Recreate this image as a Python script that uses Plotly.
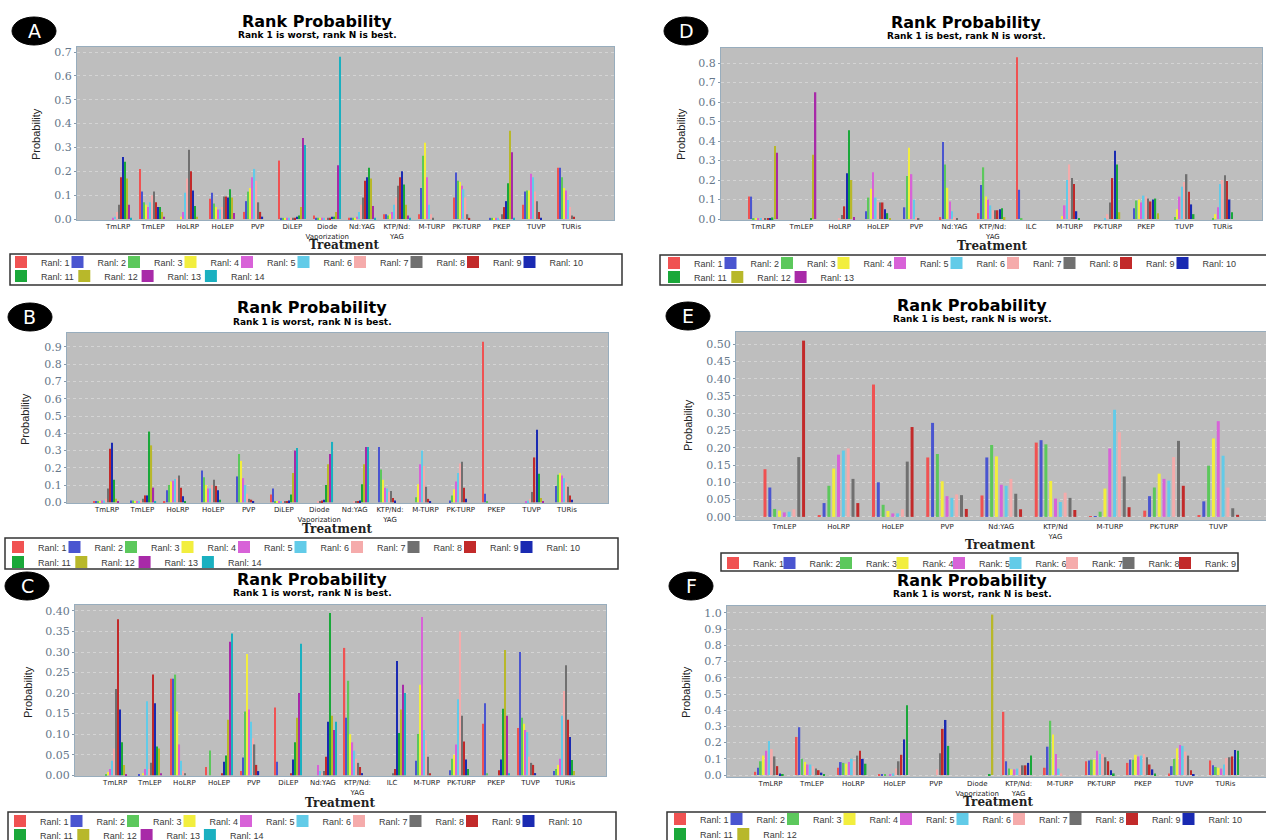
import plotly.graph_objects as go

W, H = 1266, 840

# ---------------- data ----------------
rank_colors = ["#f05252", "#4a55d0", "#5cc85c", "#f2ee3e", "#d862d8", "#62cbe8", "#f5abab",
               "#707070", "#c22a2a", "#1a2ab2", "#1aa83a", "#b8b82a", "#a82aa8", "#1ab0c0"]

title_text = "Rank Probability"
sub_worst = "Rank 1 is worst, rank N is best."
sub_best = "Rank 1 is best, rank N is worst."

treat_A = ["TmLRP", "TmLEP", "HoLRP", "HoLEP", "PVP", "DiLEP", "Diode<br>Vaporization", "Nd:YAG",
           "KTP/Nd:<br>YAG", "M-TURP", "PK-TURP", "PKEP", "TUVP", "TURis"]
prob_A = [
    [0, 0, 0, 0, 0.005, 0.01, 0.03, 0.06, 0.175, 0.26, 0.24, 0.17, 0.06, 0.005],
    [0.21, 0.115, 0.07, 0.06, 0.05, 0.07, 0.1, 0.115, 0.07, 0.05, 0.05, 0.03, 0.01, 0],
    [0, 0, 0, 0.01, 0.03, 0.11, 0.17, 0.29, 0.2, 0.12, 0.055, 0.01, 0, 0],
    [0.085, 0.11, 0.065, 0.05, 0.04, 0.04, 0.05, 0.095, 0.095, 0.09, 0.125, 0.09, 0.025, 0],
    [0.03, 0.075, 0.115, 0.13, 0.175, 0.21, 0.16, 0.07, 0.03, 0.01, 0, 0, 0, 0],
    [0.245, 0.005, 0.005, 0.005, 0.005, 0.005, 0.005, 0.005, 0.005, 0.01, 0.015, 0.05, 0.34, 0.31],
    [0.015, 0.005, 0.005, 0.005, 0.005, 0.005, 0.005, 0.005, 0.005, 0.01, 0.01, 0.03, 0.225, 0.68],
    [0.005, 0.005, 0.005, 0.005, 0.01, 0.03, 0.06, 0.09, 0.16, 0.175, 0.215, 0.17, 0.055, 0.005],
    [0.02, 0.02, 0.015, 0.02, 0.03, 0.06, 0.09, 0.14, 0.175, 0.2, 0.145, 0.06, 0.015, 0.005],
    [0.02, 0.13, 0.265, 0.32, 0.175, 0.06, 0.02, 0.005, 0, 0, 0, 0, 0, 0],
    [0.09, 0.195, 0.16, 0.155, 0.14, 0.125, 0.09, 0.02, 0.005, 0, 0, 0, 0, 0],
    [0, 0.005, 0.005, 0.005, 0.005, 0.005, 0.01, 0.02, 0.05, 0.075, 0.15, 0.37, 0.28, 0.005],
    [0.06, 0.115, 0.12, 0.12, 0.19, 0.175, 0.115, 0.075, 0.03, 0.005, 0, 0, 0, 0],
    [0.215, 0.215, 0.175, 0.13, 0.12, 0.08, 0.05, 0.015, 0.01, 0, 0, 0, 0, 0],
]

treat_B = treat_A
prob_B = [
    [0.005, 0.005, 0.005, 0.005, 0.01, 0.01, 0.02, 0.08, 0.31, 0.345, 0.13, 0.02, 0.005, 0],
    [0, 0.01, 0.01, 0.005, 0.005, 0.005, 0.01, 0.02, 0.04, 0.04, 0.41, 0.33, 0.085, 0.005],
    [0.005, 0.07, 0.1, 0.12, 0.125, 0.135, 0.14, 0.155, 0.085, 0.035, 0.005, 0, 0, 0],
    [0, 0.185, 0.145, 0.1, 0.08, 0.08, 0.1, 0.13, 0.095, 0.07, 0.015, 0, 0, 0],
    [0, 0.15, 0.28, 0.24, 0.14, 0.1, 0.05, 0.02, 0.015, 0.005, 0, 0, 0, 0],
    [0.045, 0.08, 0.005, 0.005, 0.005, 0.005, 0.005, 0.005, 0.005, 0.01, 0.045, 0.17, 0.3, 0.315],
    [0, 0, 0, 0, 0, 0, 0.005, 0.005, 0.01, 0.015, 0.1, 0.22, 0.28, 0.35],
    [0, 0, 0, 0, 0, 0, 0.005, 0.005, 0.005, 0.01, 0.105, 0.22, 0.32, 0.32],
    [0, 0.32, 0.19, 0.13, 0.085, 0.08, 0.06, 0.065, 0.025, 0.01, 0, 0, 0, 0],
    [0, 0, 0.03, 0.105, 0.22, 0.3, 0.21, 0.09, 0.02, 0.005, 0, 0, 0, 0],
    [0, 0.01, 0.04, 0.075, 0.12, 0.17, 0.225, 0.235, 0.085, 0.02, 0, 0, 0, 0],
    [0.93, 0.05, 0.005, 0, 0, 0, 0, 0, 0, 0, 0, 0, 0, 0],
    [0, 0, 0, 0, 0.005, 0.01, 0.02, 0.06, 0.26, 0.42, 0.165, 0.025, 0.005, 0],
    [0, 0.095, 0.16, 0.17, 0.155, 0.14, 0.115, 0.09, 0.04, 0.015, 0, 0, 0, 0],
]

treat_C = ["TmLRP", "TmLEP", "HoLRP", "HoLEP", "PVP", "DiLEP", "Nd:YAG", "KTP/Nd:<br>YAG", "ILC",
           "M-TURP", "PK-TURP", "PKEP", "TUVP", "TURis"]
prob_C = [
    [0, 0, 0.003, 0.008, 0.015, 0.035, 0.065, 0.21, 0.38, 0.16, 0.08, 0.025, 0.002, 0],
    [0, 0.003, 0, 0.005, 0.015, 0.18, 0.015, 0.03, 0.245, 0.175, 0.07, 0.065, 0.005, 0],
    [0.235, 0.235, 0.245, 0.155, 0.075, 0.035, 0.01, 0.005, 0, 0, 0, 0, 0, 0],
    [0.02, 0, 0.06, 0, 0, 0, 0, 0, 0.005, 0.033, 0.048, 0.135, 0.325, 0.345],
    [0.01, 0.043, 0.155, 0.295, 0.16, 0.13, 0.09, 0.075, 0.025, 0.01, 0, 0, 0, 0],
    [0.165, 0.033, 0, 0, 0, 0, 0, 0, 0.005, 0.038, 0.08, 0.14, 0.2, 0.32],
    [0, 0, 0, 0, 0.025, 0.01, 0.005, 0.01, 0.045, 0.13, 0.395, 0.145, 0.11, 0.13],
    [0.31, 0.14, 0.23, 0.1, 0.08, 0.06, 0.04, 0.03, 0.02, 0.005, 0, 0, 0, 0],
    [0, 0, 0, 0, 0, 0, 0, 0.005, 0.015, 0.278, 0.103, 0.16, 0.22, 0.2],
    [0, 0.035, 0.1, 0.22, 0.385, 0.11, 0.085, 0.045, 0.005, 0, 0, 0, 0, 0],
    [0, 0.012, 0.04, 0.05, 0.075, 0.185, 0.35, 0.145, 0.082, 0.038, 0.015, 0, 0, 0],
    [0.125, 0.175, 0.005, 0, 0, 0, 0, 0, 0.012, 0.038, 0.162, 0.305, 0.145, 0.005],
    [0.115, 0.3, 0.14, 0.125, 0.11, 0.105, 0.045, 0.03, 0.025, 0.005, 0, 0, 0, 0],
    [0, 0.01, 0.015, 0.025, 0.04, 0.145, 0.205, 0.268, 0.135, 0.093, 0.037, 0.01, 0, 0],
]

treat_D = ["TmLRP", "TmLEP", "HoLRP", "HoLEP", "PVP", "Nd:YAG", "KTP/Nd:<br>YAG", "ILC",
           "M-TURP", "PK-TURP", "PKEP", "TUVP", "TURis"]
prob_D = [
    [0.115, 0.115, 0.005, 0.002, 0.002, 0.002, 0.002, 0.002, 0.002, 0.005, 0.008, 0.375, 0.34],
    [0, 0, 0, 0, 0, 0, 0, 0, 0, 0, 0.005, 0.33, 0.65],
    [0, 0, 0, 0, 0, 0, 0.005, 0.02, 0.065, 0.235, 0.455, 0.2, 0.01],
    [0, 0.04, 0.11, 0.155, 0.24, 0.11, 0.09, 0.085, 0.085, 0.05, 0.03, 0.005, 0],
    [0, 0.06, 0.22, 0.365, 0.23, 0.1, 0.01, 0.005, 0, 0, 0, 0, 0],
    [0.01, 0.395, 0.28, 0.16, 0.09, 0.04, 0.01, 0.005, 0, 0, 0, 0, 0],
    [0.03, 0.175, 0.265, 0.115, 0.1, 0.07, 0.045, 0.045, 0.045, 0.05, 0.055, 0.01, 0],
    [0.83, 0.15, 0.005, 0, 0, 0, 0, 0, 0, 0, 0, 0, 0],
    [0, 0, 0, 0.015, 0.07, 0.2, 0.28, 0.21, 0.18, 0.04, 0.005, 0, 0],
    [0, 0, 0, 0, 0, 0.005, 0.025, 0.085, 0.21, 0.35, 0.28, 0.035, 0],
    [0, 0.055, 0.095, 0.1, 0.085, 0.12, 0.115, 0.105, 0.09, 0.1, 0.105, 0.03, 0],
    [0, 0, 0.01, 0.05, 0.115, 0.165, 0.19, 0.23, 0.14, 0.075, 0.025, 0, 0],
    [0, 0, 0.005, 0.025, 0.06, 0.18, 0.2, 0.225, 0.195, 0.1, 0.035, 0, 0],
]

treat_E = ["TmLEP", "HoLRP", "HoLEP", "PVP", "Nd:YAG", "KTP/Nd<br>YAG", "M-TURP", "PK-TURP", "TUVP"]
prob_E = [
    [0.138, 0.085, 0.023, 0.018, 0.013, 0.015, 0.022, 0.173, 0.51],
    [0.005, 0.04, 0.09, 0.14, 0.18, 0.192, 0.198, 0.11, 0.04],
    [0.383, 0.1, 0.035, 0.017, 0.01, 0.01, 0.022, 0.16, 0.26],
    [0.172, 0.272, 0.182, 0.103, 0.06, 0.055, 0.065, 0.063, 0.023],
    [0.062, 0.172, 0.208, 0.175, 0.093, 0.09, 0.11, 0.067, 0.022],
    [0.215, 0.222, 0.21, 0.104, 0.053, 0.043, 0.07, 0.055, 0.02],
    [0.002, 0.002, 0.015, 0.082, 0.198, 0.31, 0.245, 0.117, 0.028],
    [0.018, 0.06, 0.085, 0.125, 0.11, 0.105, 0.173, 0.22, 0.09],
    [0.005, 0.045, 0.148, 0.227, 0.277, 0.177, 0.085, 0.025, 0.006],
]

treat_F = ["TmLRP", "TmLEP", "HoLRP", "HoLEP", "PVP", "Diode<br>Vaporization", "KTP/Nd:<br>YAG",
           "M-TURP", "PK-TURP", "PKEP", "TUVP", "TURis"]
prob_F = [
    [0.02, 0.045, 0.085, 0.12, 0.15, 0.21, 0.16, 0.115, 0.055, 0.01, 0.002, 0],
    [0.235, 0.295, 0.1, 0.08, 0.065, 0.065, 0.055, 0.04, 0.03, 0.015, 0.005, 0],
    [0.045, 0.08, 0.075, 0.07, 0.08, 0.1, 0.085, 0.12, 0.15, 0.1, 0.07, 0],
    [0.005, 0.005, 0.005, 0, 0.005, 0.01, 0.04, 0.085, 0.125, 0.22, 0.43, 0],
    [0, 0, 0, 0, 0, 0, 0.035, 0.135, 0.285, 0.34, 0.18, 0],
    [0, 0, 0, 0, 0, 0, 0, 0, 0, 0, 0.005, 0.99],
    [0.39, 0.085, 0.04, 0.035, 0.035, 0.04, 0.045, 0.06, 0.06, 0.075, 0.12, 0],
    [0.045, 0.175, 0.335, 0.25, 0.13, 0.04, 0.01, 0, 0, 0, 0, 0],
    [0.085, 0.09, 0.095, 0.095, 0.15, 0.13, 0.13, 0.11, 0.085, 0.03, 0.01, 0],
    [0.075, 0.095, 0.095, 0.125, 0.115, 0.12, 0.13, 0.11, 0.065, 0.035, 0.01, 0],
    [0.01, 0.055, 0.1, 0.165, 0.185, 0.18, 0.145, 0.12, 0.03, 0.005, 0, 0],
    [0.09, 0.06, 0.05, 0.045, 0.04, 0.065, 0.105, 0.11, 0.115, 0.155, 0.15, 0],
]


# ---------------- layout helpers ----------------
def px(x):
    return x / W


def py(y):
    return 1 - y / H


panels = [
    dict(letter="A", treat=treat_A, probs=prob_A, sub=sub_worst, prefix="Ranl: ",
         dx=(77, 614), dy=(47, 220), yr=(-0.004, 0.721), dt=0.1, fmt=".1f", xr=(-1.18, 14.23),
         circ=(34, 31), ttl=(317, 21, 35), ylab=(36, 134), xlab=(344, 245),
         box=(10, 254, 622, 285), legx=1, rows=(262, 276)),
    dict(letter="B", treat=treat_B, probs=prob_B, sub=sub_worst, prefix="Ranl: ",
         dx=(67, 608), dy=(333, 503), yr=(-0.004, 0.981), dt=0.1, fmt=".1f", xr=(-1.13, 14.16),
         circ=(30, 317), ttl=(312, 307, 322), ylab=(25, 419), xlab=(337, 529),
         box=(5, 538, 618, 569), legx=-2, rows=(547, 562)),
    dict(letter="C", treat=treat_C, probs=prob_C, sub=sub_worst, prefix="Ranl: ",
         dx=(75, 606), dy=(605, 776), yr=(-0.002, 0.4145), dt=0.05, fmt=".2f", xr=(-1.16, 14.18),
         circ=(27, 586), ttl=(312, 579, 593), ylab=(28, 692), xlab=(340, 803),
         box=(8, 812, 616, 842), legx=0, rows=(821, 835)),
    dict(letter="D", treat=treat_D, probs=prob_D, sub=sub_best, prefix="Ranl: ",
         dx=(721, 1262), dy=(48, 220), yr=(-0.005, 0.877), dt=0.1, fmt=".1f", xr=(-1.10, 13.03),
         circ=(686, 31), ttl=(966, 22, 36), ylab=(681, 134), xlab=(992, 246),
         box=(660, 255, 1268, 285), legx=654, rows=(263, 277)),
    dict(letter="E", treat=treat_E, probs=prob_E, sub=sub_best, prefix="Rank: ",
         dx=(736, 1266), dy=(332, 520), yr=(-0.009, 0.535), dt=0.05, fmt=".2f", xr=(-0.89, 8.88),
         circ=(688, 316), ttl=(972, 305, 319), ylab=(688, 425), xlab=(1000, 545),
         box=(721, 553, 1238, 571), legx=713, rows=(563,)),
    dict(letter="F", treat=treat_F, probs=prob_F, sub=sub_worst, prefix="Ranl: ",
         dx=(727, 1266), dy=(606, 777), yr=(-0.012, 1.043), dt=0.1, fmt=".1f", xr=(-1.05, 11.98),
         circ=(691, 586), ttl=(972, 580, 594), ylab=(686, 692), xlab=(998, 802),
         box=(667, 812, 1268, 842), legx=660, rows=(819, 834)),
]

GROUP = 0.8   # fraction of category occupied by a group
FILL = 0.62   # fraction of each slot occupied by the bar
ROW_ENTRY = (11.5, 18.3)  # legend entry text widths for row 1 / row 2
LEG_FONT = dict(family="Liberation Sans", size=9, color="#3a3a3a")

fig = go.Figure()
layout = dict(width=W, height=H, margin=dict(l=0, r=0, t=0, b=0, autoexpand=False),
              paper_bgcolor="white", plot_bgcolor="#bebebe",
              barmode="overlay", showlegend=True, hovermode=False)
shapes, annotations = [], []
legend_count = 0


def ann(text, x, y, font, **kw):
    d = dict(text=text, x=px(x), y=py(y), xref="paper", yref="paper", showarrow=False,
             xanchor="center", yanchor="middle", font=font)
    d.update(kw)
    annotations.append(d)


for i, p in enumerate(panels):
    n = i + 1
    sfx = "" if n == 1 else str(n)
    nr = len(p["probs"][0])
    slot = GROUP / nr

    # legends (one per row)
    leg_ids = []
    for k, row_y in enumerate(p["rows"]):
        legend_count += 1
        lid = "legend" if legend_count == 1 else f"legend{legend_count}"
        leg_ids.append(lid)
        layout[lid] = dict(orientation="h", x=px(p["legx"]), xanchor="left",
                           y=py(row_y), yanchor="middle", bgcolor="rgba(0,0,0,0)",
                           borderwidth=0, entrywidth=ROW_ENTRY[k], entrywidthmode="pixels",
                           font=LEG_FONT, traceorder="normal",
                           itemclick=False, itemdoubleclick=False)

    for r in range(nr):
        yv = [row[r] for row in p["probs"]]
        in_second = r >= 10 and len(leg_ids) > 1
        lid = leg_ids[1] if in_second else leg_ids[0]
        last_in_row = (r == nr - 1) or (r == 9 and len(leg_ids) > 1)
        kw = dict(legendwidth=42) if last_in_row else {}
        fig.add_trace(go.Bar(
            x=p["treat"], y=yv, name=f"{p['prefix']}{r + 1}",
            marker=dict(color=rank_colors[r], line=dict(width=0)),
            width=slot * FILL, offset=-GROUP / 2 + r * slot + slot * (1 - FILL) / 2,
            xaxis="x" + sfx, yaxis="y" + sfx, legend=lid, **kw,
        ))

    layout["xaxis" + sfx] = dict(
        domain=[px(p["dx"][0]), px(p["dx"][1])], anchor="y" + sfx,
        type="category", categoryorder="array", categoryarray=p["treat"],
        range=list(p["xr"]), showgrid=False, ticks="", tickangle=0,
        tickfont=dict(family="DejaVu Sans", size=7, color="#222222"),
        showline=True, mirror=True, linecolor="#98adbd", linewidth=1, fixedrange=True)
    layout["yaxis" + sfx] = dict(
        domain=[py(p["dy"][1]), py(p["dy"][0])], anchor="x" + sfx,
        range=list(p["yr"]), dtick=p["dt"], tick0=0, tickformat=p["fmt"],
        showgrid=True, gridcolor="rgba(255,255,255,0.35)", griddash="dot", gridwidth=1,
        zeroline=False, ticks="outside", ticklen=2, tickcolor="#8899aa",
        tickfont=dict(family="DejaVu Serif", size=11, color="#66778a"),
        showline=True, mirror=True, linecolor="#98adbd", linewidth=1, fixedrange=True)

    # panel letter ellipse
    cx, cy = p["circ"]
    shapes.append(dict(type="circle", xref="paper", yref="paper",
                       x0=px(cx - 22), x1=px(cx + 22), y0=py(cy + 14), y1=py(cy - 14),
                       fillcolor="black", line=dict(color="black", width=1)))
    ann(p["letter"], cx, cy, dict(family="DejaVu Sans", size=19, color="white"))
    # titles
    tx, ty, sy = p["ttl"]
    ann(f"<b>{title_text}</b>", tx, ty, dict(family="DejaVu Sans", size=16, color="black"))
    ann(f"<b>{p['sub']}</b>", tx, sy, dict(family="DejaVu Sans", size=9, color="black"))
    # axis titles
    ann("Probability", p["ylab"][0], p["ylab"][1],
        dict(family="Liberation Sans", size=11, color="#222222"), textangle=-90)
    ann("<b>Treatment</b>", p["xlab"][0], p["xlab"][1],
        dict(family="DejaVu Serif", size=12, color="#222222"))
    # legend box
    bx0, by0, bx1, by1 = p["box"]
    shapes.append(dict(type="rect", xref="paper", yref="paper",
                       x0=px(bx0), x1=px(bx1), y0=py(by1), y1=py(by0),
                       line=dict(color="#333333", width=1.5), fillcolor="rgba(0,0,0,0)"))

layout["shapes"] = shapes
layout["annotations"] = annotations
fig.update_layout(**layout)
fig.write_html("out.html", config={"displayModeBar": False})
